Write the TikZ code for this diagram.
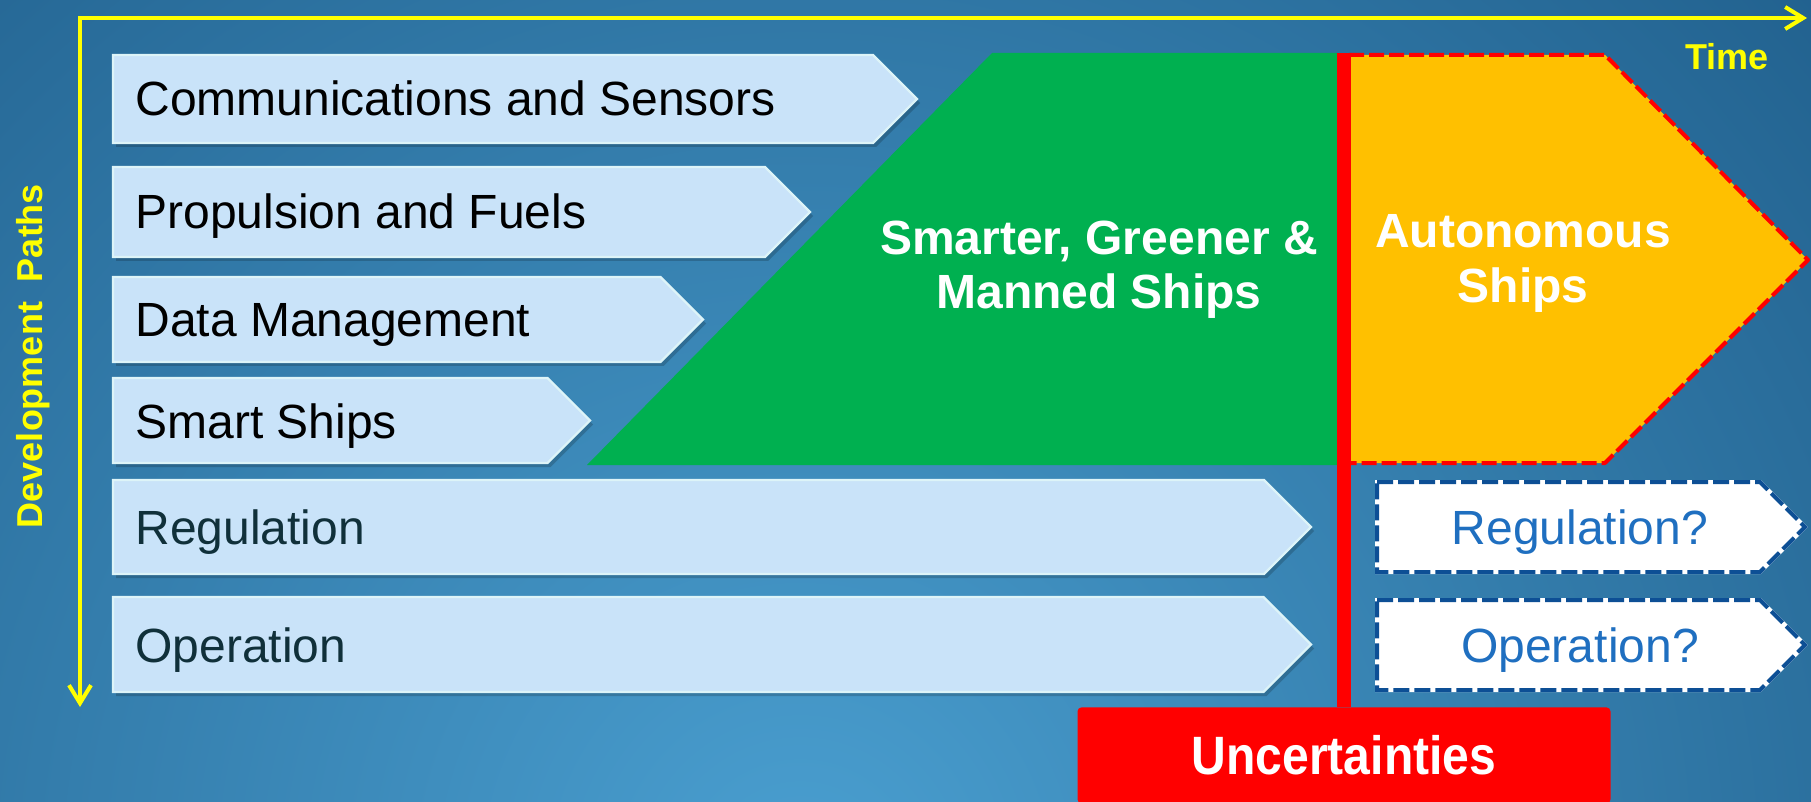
\documentclass[tikz,border=0pt]{standalone}
\usepackage{fontspec}
\setmainfont{Liberation Sans}
\usepackage{graphicx}
\usetikzlibrary{arrows.meta}
\definecolor{bgdark}{HTML}{134B77}
\definecolor{bglight}{HTML}{4A9FD0}
\definecolor{boxfill}{HTML}{C9E3F9}
\definecolor{boxedge}{HTML}{DDF4F8}
\definecolor{labeldark}{HTML}{10303A}
\definecolor{qblue}{HTML}{0D4F95}
\definecolor{qtext}{HTML}{1F6FC0}
\definecolor{greenc}{HTML}{00B050}
\definecolor{orangec}{HTML}{FFC000}
\definecolor{redc}{HTML}{FF0000}
\definecolor{axisc}{HTML}{FFFF00}
\newcommand{\chevpath}[4]{(#1,#2) -- ({#3-(#4-#2)/2},#2) -- (#3,{(#2+#4)/2}) -- ({#3-(#4-#2)/2},#4) -- (#1,#4) -- cycle}
\begin{document}
\begin{tikzpicture}[x=0.5pt,y=-0.5pt,
  pathbox/.style={fill=boxfill, draw=boxedge, line width=1.2pt, line join=miter},
  shadowbox/.style={fill=black, opacity=0.18},
  qboxbg/.style={fill=white, draw=white, line width=2pt},
  qbox/.style={draw=qblue, line width=2pt, dash pattern=on 8pt off 2.5pt},
  lbl/.style={anchor=base west, inner sep=0pt, font=\fontsize{24}{28}\selectfont},
  qlbl/.style={anchor=base, inner sep=0pt, text=qtext, font=\fontsize{24}{28}\selectfont},
  biglbl/.style={anchor=base, inner sep=0pt, align=center, text=white, font=\fontsize{24}{27.5}\selectfont\bfseries},
  axislbl/.style={inner sep=0pt, text=axisc, font=\fontsize{18}{20}\selectfont\bfseries},
  axis/.style={draw=axisc, line width=2pt, line join=miter,
     {Straight Barb[length=9pt,width=11pt]}-{Straight Barb[length=9pt,width=11pt]}},
  reddash/.style={draw=redc, line width=2pt, dash pattern=on 7.5pt off 2.5pt, line join=round},
  redbar/.style={draw=redc, line width=7pt},
  uncbox/.style={fill=redc, rounded corners=2pt, minimum width=266.5pt, minimum height=48pt,
     inner sep=0pt, text=white, font=\fontsize{27}{30}\selectfont\bfseries}
]
\useasboundingbox (0,0) rectangle (1811,802);
\begin{scope}
\clip (0,0) rectangle (1811,802);
% background
\fill[bgdark] (0,0) rectangle (1811,802);
\shade[inner color=bglight, outer color=bgdark] (800,880) circle (1850);

% axes
\coordinate (origin) at (80,18);
\coordinate (xend) at (1807,18);
\coordinate (yend) at (80,707);
\draw[axis] (yend) -- (origin) -- (xend);
\node[axislbl, anchor=base] (time) at (1727,70) {Time};
\node[axislbl, anchor=base, rotate=90] (devpaths) at (42,356) {Development\ \ Paths};

% green trapezoid
\fill[greenc] (992,53) -- (1337,53) -- (1337,465) -- (587,465) -- cycle;
\node[biglbl] (green) at (1099,309) {Smarter, Greener \&\\Manned Ships};

% orange pentagon
\fill[orangec] (1351,55) -- (1605,55) -- (1808,260) -- (1605,463) -- (1351,463) -- cycle;
\draw[reddash] (1349,55) -- (1605,55) -- (1808,260) -- (1605,463) -- (1349,463);
\node[biglbl] (auto) at (1523,303) {Autonomous\\Ships};

% left chevrons
\foreach \t/\b/\tip in {55/143/917, 167/257/810, 277/362/703, 378/463/590, 480/574/1311, 597/692/1311}{
  \fill[shadowbox] [shift={(3,4)}] \chevpath{113}{\t}{\tip}{\b};
  \path[pathbox] \chevpath{113}{\t}{\tip}{\b};
}
\node[lbl] (comms) at (135,116) {Communications and Sensors};
\node[lbl] (prop) at (135,229) {Propulsion and Fuels};
\node[lbl] (data) at (135,337) {Data Management};
\node[lbl] (smart) at (135,438) {Smart Ships};
\node[lbl, text=labeldark] (reg) at (135,544) {Regulation};
\node[lbl, text=labeldark] (oper) at (135,662) {Operation};

% question chevrons
\path[qboxbg] \chevpath{1377}{482}{1805}{572};
\path[qbox] \chevpath{1377}{482}{1805}{572};
\path[qboxbg] \chevpath{1377}{600}{1805}{690};
\path[qbox] \chevpath{1377}{600}{1805}{690};
\node[qlbl] (regq) at (1580,544) {Regulation?};
\node[qlbl] (operq) at (1580,662) {Operation?};

% uncertainties
\node[uncbox, anchor=north] (unc) at (1344,707) {\scalebox{0.89}[1]{Uncertainties}};
\coordinate (bartop) at (1344,53);
\draw[redbar] (bartop) -- (bartop |- unc.north);
\end{scope}
\end{tikzpicture}
\end{document}
